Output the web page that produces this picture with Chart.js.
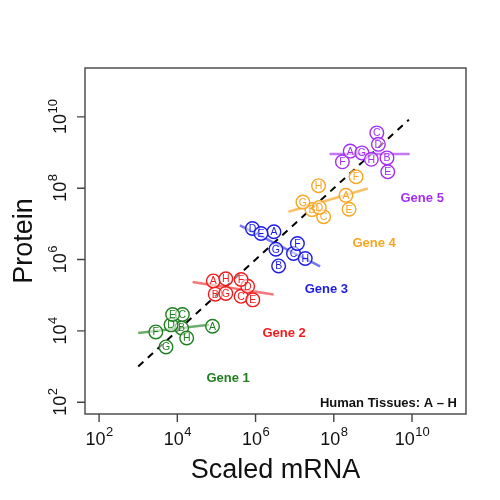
<!DOCTYPE html>
<html>
<head>
<meta charset="utf-8">
<script src="https://cdn.jsdelivr.net/npm/chart.js@4.4.1/dist/chart.umd.min.js"></script>
<style>
html, body { margin: 0; padding: 0; background: #fff; }
#wrap { width: 500px; height: 500px; }
</style>
</head>
<body>
<div id="wrap"><canvas id="myChart" width="500" height="500"></canvas></div>
<script>
// tissues A..H, values are log10
const tissues = ["A", "B", "C", "D", "E", "F", "G", "H"];
const geneNames = ["Gene 1", "Gene 2", "Gene 3", "Gene 4", "Gene 5"];

const gene1Mrna    = [4.90, 4.11, 4.13, 3.84, 3.88, 3.45, 3.71, 4.24];
const gene1Protein = [4.13, 4.08, 4.46, 4.17, 4.46, 3.97, 3.55, 3.80];
const gene2Mrna    = [4.92, 4.97, 5.63, 5.80, 5.93, 5.63, 5.24, 5.24];
const gene2Protein = [5.40, 5.03, 4.97, 5.25, 4.87, 5.44, 5.05, 5.46];
const gene3Mrna    = [6.47, 6.59, 6.97, 5.92, 6.14, 7.07, 6.52, 7.27];
const gene3Protein = [6.78, 5.82, 6.17, 6.87, 6.73, 6.45, 6.29, 6.03];
const gene4Mrna    = [8.31, 7.44, 7.74, 7.63, 8.39, 8.57, 7.21, 7.61];
const gene4Protein = [7.80, 7.40, 7.20, 7.46, 7.41, 8.32, 7.61, 8.07];
const gene5Mrna    = [8.42, 9.36, 9.10, 9.14, 9.38, 8.22, 8.72, 8.96];
const gene5Protein = [9.04, 8.85, 9.55, 9.23, 8.46, 8.74, 8.99, 8.81];

// fitted line ends per gene (log10)
const fitMrna    = [[3.00, 4.81], [4.39, 6.46], [5.60, 7.65], [6.84, 8.87], [7.89, 9.94]];
const fitProtein = [[3.94, 4.17], [5.37, 5.02], [6.96, 5.81], [7.34, 7.99], [8.96, 8.96]];

// protein = mRNA reference line
const diagMrna    = [3.0, 9.92];
const diagProtein = [3.0, 9.92];

// where the gene names sit (log10 data units)
const geneLabelMrna    = [5.30, 6.73, 7.81, 9.03, 10.26];
const geneLabelProtein = [2.67, 3.93, 5.17, 6.46, 7.72];

const tickExponents = [2, 4, 6, 8, 10];

const colors = ["#1f7f1f", "#f01c1c", "#1c1ce6", "#f7a623", "#a52ff0"];
const fitColors = ["rgba(31,127,31,0.65)", "rgba(240,28,28,0.6)", "rgba(28,28,230,0.6)",
                   "rgba(247,166,35,0.7)", "rgba(165,47,240,0.65)"];

const FONT = "'Liberation Sans', Arial, Helvetica, sans-serif";

const mrnaSets = [gene1Mrna, gene2Mrna, gene3Mrna, gene4Mrna, gene5Mrna];
const proteinSets = [gene1Protein, gene2Protein, gene3Protein, gene4Protein, gene5Protein];

const toPoints = (xs, ys) => xs.map((x, i) => ({ x: Math.pow(10, x), y: Math.pow(10, ys[i]) }));

const datasets = [];

// dashed diagonal
datasets.push({
    type: "line",
    data: toPoints(diagMrna, diagProtein),
    borderColor: "#000",
    borderWidth: 2,
    borderDash: [7, 6],
    pointRadius: 0,
    order: 3,
});

// fit lines
fitMrna.forEach((xs, g) => {
    datasets.push({
        type: "line",
        data: toPoints(xs, fitProtein[g]),
        borderColor: fitColors[g],
        borderWidth: 2.5,
        pointRadius: 0,
        order: 2,
    });
});

// tissue points
mrnaSets.forEach((xs, g) => {
    datasets.push({
        type: "scatter",
        data: toPoints(xs, proteinSets[g]),
        letters: tissues,
        borderColor: colors[g],
        backgroundColor: "rgba(255,255,255,0.55)",
        borderWidth: 1.4,
        pointRadius: 6.8,
        pointHoverRadius: 6.8,
        order: 1,
    });
});

// "10" with a raised exponent, centred on (x, y) baseline
const drawPower = (ctx, e, x, y, angle) => {
    ctx.save();
    ctx.translate(x, y);
    ctx.rotate(angle);
    ctx.textAlign = "left";
    ctx.textBaseline = "alphabetic";
    ctx.font = "18px " + FONT;
    const w1 = ctx.measureText("10").width;
    ctx.font = "13px " + FONT;
    const w2 = ctx.measureText(String(e)).width;
    const start = -(w1 + w2) / 2;
    ctx.font = "18px " + FONT;
    ctx.fillText("10", start, 0);
    ctx.font = "13px " + FONT;
    ctx.fillText(String(e), start + w1 + 0.5, -9);
    ctx.restore();
};

// letters in circles, gene names, box, axes
const decorations = {
    id: "decorations",
    afterDatasetsDraw(chart) {
        const ctx = chart.ctx;
        const xs = chart.scales.x;
        const ys = chart.scales.y;
        const area = chart.chartArea;

        ctx.save();
        // letters
        ctx.font = "10.5px " + FONT;
        ctx.textAlign = "center";
        ctx.textBaseline = "middle";
        chart.data.datasets.forEach((ds, i) => {
            if (!ds.letters) return;
            const meta = chart.getDatasetMeta(i);
            ctx.fillStyle = ds.borderColor;
            meta.data.forEach((pt, j) => {
                ctx.fillText(ds.letters[j], pt.x, pt.y + 0.5);
            });
        });

        // gene names
        ctx.font = "bold 13px " + FONT;
        geneNames.forEach((name, g) => {
            ctx.fillStyle = colors[g];
            ctx.fillText(name,
                xs.getPixelForValue(Math.pow(10, geneLabelMrna[g])),
                ys.getPixelForValue(Math.pow(10, geneLabelProtein[g])));
        });

        // tissue note
        ctx.fillStyle = "#111";
        ctx.textAlign = "right";
        ctx.textBaseline = "alphabetic";
        ctx.fillText("Human Tissues: A \u2013 H", area.right - 9, area.bottom - 7);

        // box
        ctx.strokeStyle = "#444";
        ctx.lineWidth = 1.4;
        ctx.strokeRect(area.left, area.top, area.right - area.left, area.bottom - area.top);

        // ticks and labels
        ctx.fillStyle = "#111";
        tickExponents.forEach((e) => {
            const v = Math.pow(10, e);
            const px = xs.getPixelForValue(v);
            const py = ys.getPixelForValue(v);

            ctx.beginPath();
            ctx.moveTo(px, area.bottom);
            ctx.lineTo(px, area.bottom + 8);
            ctx.moveTo(area.left, py);
            ctx.lineTo(area.left - 8, py);
            ctx.stroke();

            drawPower(ctx, e, px, 445, 0);
            drawPower(ctx, e, 66, py, -Math.PI / 2);
        });

        // axis titles
        ctx.font = "27px " + FONT;
        ctx.textAlign = "center";
        ctx.textBaseline = "alphabetic";
        ctx.fillText("Scaled mRNA", (area.left + area.right) / 2, 478);
        ctx.translate(32, (area.top + area.bottom) / 2);
        ctx.rotate(-Math.PI / 2);
        ctx.fillText("Protein", 0, 0);

        ctx.restore();
    },
};

const config = {
    type: "scatter",
    data: { datasets },
    plugins: [decorations],
    options: {
        responsive: false,
        animation: false,
        events: [],
        layout: { padding: { left: 85, right: 34, top: 68, bottom: 86 } },
        plugins: { legend: { display: false }, tooltip: { enabled: false } },
        scales: {
            x: { type: "logarithmic", display: false, min: Math.pow(10, 1.64), max: Math.pow(10, 11.38) },
            y: { type: "logarithmic", display: false, min: Math.pow(10, 1.67), max: Math.pow(10, 11.37) },
        },
    },
};

const myChart = new Chart(document.getElementById("myChart"), config);
</script>
</body>
</html>
